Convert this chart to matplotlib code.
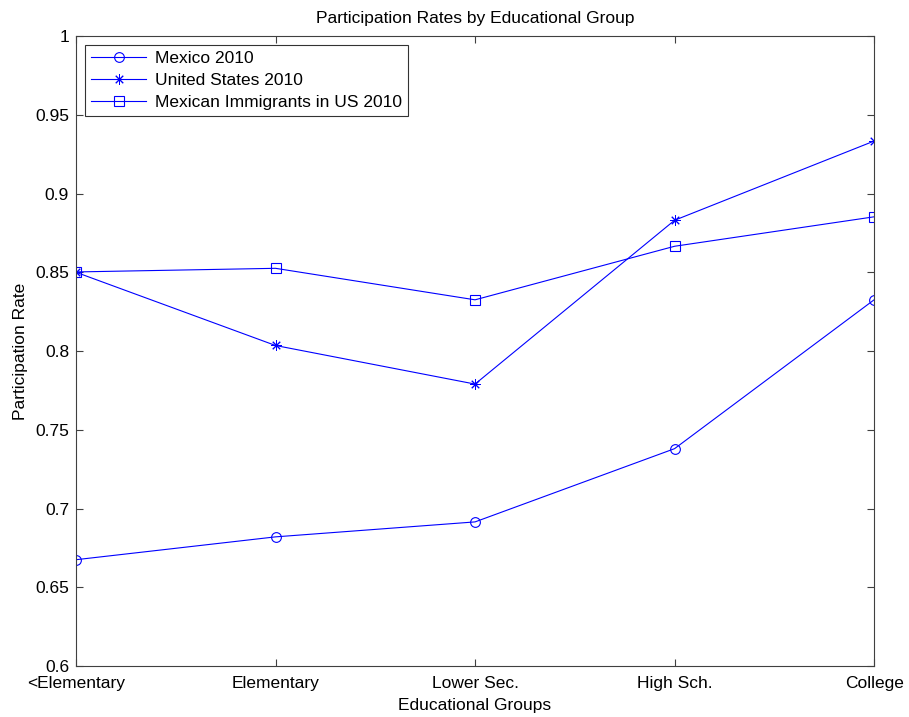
import numpy as np
import matplotlib.pyplot as plt

plt.rcParams['font.family'] = ['Liberation Sans', 'DejaVu Sans']

# categorie e valori
groups = ['<Elementary', 'Elementary', 'Lower Sec.', 'High Sch.', 'College']
mexico = [0.6675, 0.6820, 0.6915, 0.7380, 0.8325]
united_states = [0.8500, 0.8035, 0.7790, 0.8830, 0.9333]
immigrants = [0.8502, 0.8525, 0.8325, 0.8665, 0.8852]

x = np.arange(1, len(groups) + 1)

fig = plt.figure(figsize=(9.09, 7.17), dpi=100)
ax = fig.add_axes([0.0836, 0.0711, 0.878, 0.8787])

ax.plot(x, mexico, color='blue', lw=0.8, marker='o', ms=7, mfc='none', mew=0.8, label='Mexico 2010')
ax.plot(x, united_states, color='blue', lw=0.8, marker=(8, 2, 0), ms=7.5, mew=0.7, label='United States 2010')
ax.plot(x, immigrants, color='blue', lw=0.8, marker='s', ms=7, mfc='none', mew=0.8, label='Mexican Immigrants in US 2010')

ax.set_xlim(1, 5)
ax.set_ylim(0.6, 1.0)
ax.set_xticks(x)
ax.set_xticklabels(groups)
ax.set_yticks(np.arange(0.6, 1.001, 0.05))
ax.set_yticklabels(['0.6', '0.65', '0.7', '0.75', '0.8', '0.85', '0.9', '0.95', '1'])
ax.tick_params(direction='in', top=True, right=True, length=5, labelsize=12.5, color='#404040')
ax.tick_params(axis='y', pad=5)
ax.tick_params(axis='x', pad=7)
for s in ax.spines.values():
    s.set_color('#404040')
    s.set_linewidth(0.8)

ax.set_xlabel('Educational Groups', fontsize=12.5, labelpad=5)
ax.set_ylabel('Participation Rate', fontsize=12.5, labelpad=5)
ax.set_title('Participation Rates by Educational Group', fontsize=12.5, pad=9)

leg = ax.legend(loc='upper left', fontsize=12.5, fancybox=False, edgecolor='black',
                borderaxespad=0.5, handlelength=3.2, labelspacing=0.4, borderpad=0.35,
                handletextpad=0.5)
leg.get_frame().set_linewidth(0.8)

fig.savefig('out.png', dpi=100)
